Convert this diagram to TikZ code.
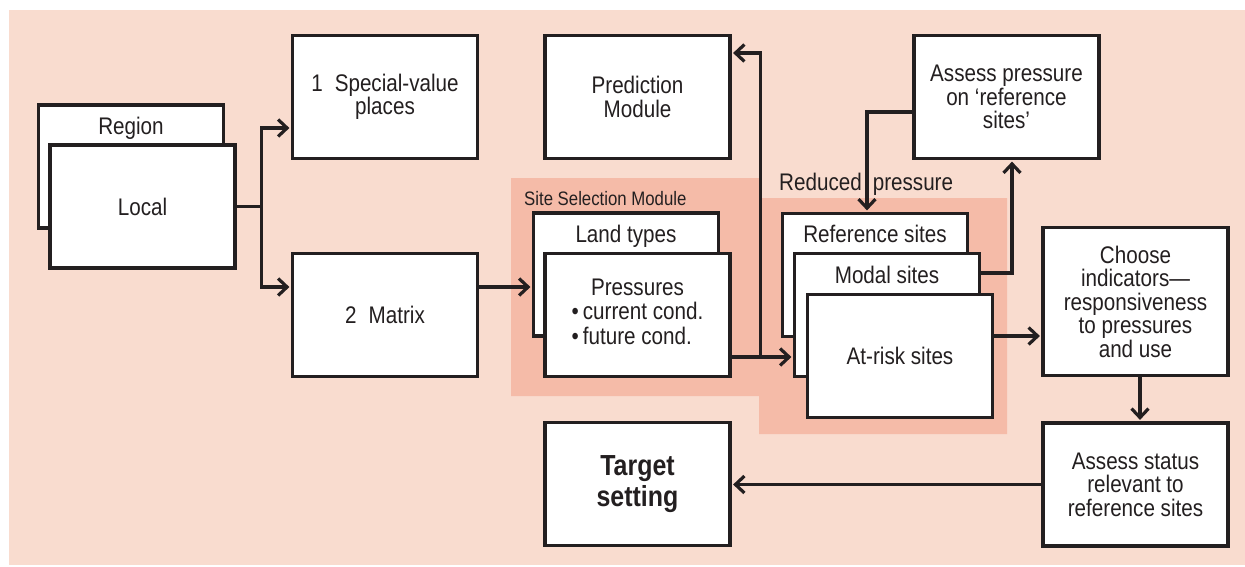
\documentclass[tikz,border=0pt]{standalone}
\usepackage{fontspec}
\setmainfont{Liberation Sans}[FakeStretch=0.86]
\usetikzlibrary{arrows.meta,positioning,calc}
\definecolor{bgpink}{HTML}{F9DCCF}
\definecolor{modpink}{HTML}{F5BBA8}
\definecolor{ink}{HTML}{231F20}
\begin{document}
\begin{tikzpicture}[x=1pt,y=-1pt,
  box/.style={draw=ink,line width=3.2pt,fill=white,minimum width=185pt,minimum height=123pt,
    inner sep=0pt,align=center,text=ink,font=\fontsize{24}{23.5}\selectfont},
  tag/.style={inner sep=0pt,text=ink,font=\fontsize{24}{23.5}\selectfont},
  arr/.style={draw=ink,line width=3.2pt,shorten >=1.5pt,-{Straight Barb[length=9pt,width=17pt]}}]
 \useasboundingbox (0,0) rectangle (1245,566);
 \fill[bgpink] (9,10) rectangle (1245,565);
 % shaded modules
 \fill[modpink] (511,178) -- (759,178) -- (759,198) -- (1007,198) -- (1007,434)
   -- (759,434) -- (759,396) -- (511,396) -- cycle;
 \node[tag,font=\fontsize{19.5}{19}\selectfont,anchor=base west] (ssm) at (524,205) {Site Selection Module};
 \node[tag,anchor=base west] (redp) at (779,190) {Reduced\hspace{11pt}pressure};
 % left column
 \node[box] (region) at (131,166.5) {};
 \node[tag,below=14pt of region.north] (regiontag) {Region};
 \node[box] (local) at (142.5,206.5) {Local};
 \node[box] (special) at (385,97) {1\enspace Special-value\\places};
 \node[box] (matrix) at (385,315) {2\enspace Matrix};
 % middle column
 \node[box] (predict) at (637.5,97) {Prediction\\Module};
 \node[box] (land) at (626,274.5) {};
 \node[tag,below=14pt of land.north] (landtag) {Land types};
 \node[box] (press) at (637.5,315) {\begin{tabular}{@{}l@{}}\multicolumn{1}{@{}c@{}}{Pressures}\\
   \textbullet\,current cond.\\ \textbullet\,future cond.\end{tabular}};
 \node[box,font=\bfseries\fontsize{29}{31}\selectfont] (target) at (637.5,484) {Target\\setting};
 % sites
 \node[box] (ref) at (875,275) {};
 \node[tag,below=13pt of ref.north] (reftag) {Reference sites};
 \node[box] (modal) at (887,315) {};
 \node[tag,below=14pt of modal.north] (modaltag) {Modal sites};
 \node[box] (risk) at (900,356) {At-risk sites};
 % right column
 \node[box] (assessp) at (1006.5,97) {Assess pressure\\on `reference\\sites'};
 \node[box,minimum height=148pt] (choose) at (1135.5,301.5) {Choose\\indicators---\\responsiveness\\to pressures\\and use};
 \node[box] (status) at (1135.5,484.5) {Assess status\\relevant to\\reference sites};
 % connectors
 \draw[arr] (local.east) -- ++(25,0) coordinate (fork) |- ($(special.west)+(0,31)$);
 \draw[arr] (fork) |- ($(matrix.west)+(0,-28)$);
 \coordinate (m2) at ($(matrix.east)+(0,-28)$);
 \draw[arr] (m2) -- (m2 -| land.west);
 \coordinate (p1) at ($(press.east)+(0,42)$);
 \draw[arr] (p1) -- (p1 -| modal.west);
 \draw[arr] (p1) -- ++(28.5,0) |- ($(predict.east)+(0,-44)$);
 \draw[arr] ($(assessp.west)+(0,15)$) -| ($(ref.north)+(-8,0)$);
 \draw[arr] ($(modal.east)+(0,-42)$) -| ($(assessp.south)+(5.5,0)$);
 \coordinate (r1) at ($(risk.east)+(0,-20)$);
 \draw[arr] (r1) -- (r1 -| choose.west);
 \draw[arr] ($(choose.south)+(4.5,0)$) -- ($(status.north)+(4.5,0)$);
 \draw[arr] (status.west) -- (status.west -| target.east);
\end{tikzpicture}
\end{document}
